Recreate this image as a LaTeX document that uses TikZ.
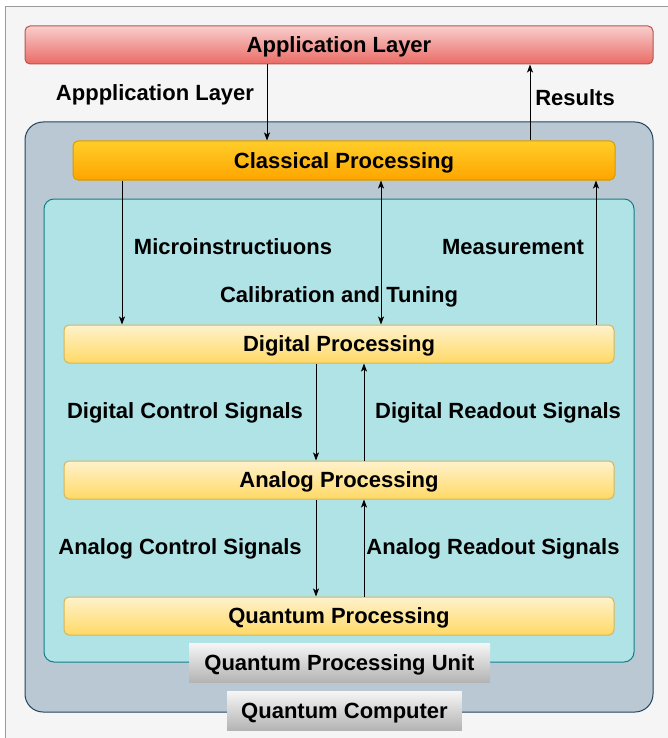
\documentclass[tikz,border=0pt]{standalone}
\usepackage{fontspec}
\setmainfont{Liberation Sans}
\usetikzlibrary{arrows.meta, positioning}
\definecolor{pagebg}{HTML}{F5F5F5}
\definecolor{pageline}{HTML}{9A9A9A}
\definecolor{apptop}{HTML}{F8CECC}
\definecolor{appbot}{HTML}{EA6B66}
\definecolor{appline}{HTML}{B85450}
\definecolor{cltop}{HTML}{FFCD28}
\definecolor{clbot}{HTML}{FFA500}
\definecolor{clline}{HTML}{D79B00}
\definecolor{qcfill}{HTML}{BAC8D3}
\definecolor{qcline}{HTML}{23445D}
\definecolor{qpufill}{HTML}{B0E3E6}
\definecolor{qpuline}{HTML}{0E8088}
\definecolor{proctop}{HTML}{FFF2CC}
\definecolor{procbot}{HTML}{FFD966}
\definecolor{procline}{HTML}{D6B656}
\definecolor{tagtop}{HTML}{F5F5F5}
\definecolor{tagbot}{HTML}{B3B3B3}
\newcommand{\labelfont}{\fontsize{22}{26}\selectfont\bfseries}

\begin{document}
\begin{tikzpicture}[
    x=1pt, y=-1pt,
    node distance=97pt,
    % 层样式
    layer/.style={
        rectangle, rounded corners=5pt, line width=1pt,
        minimum width=550pt, minimum height=38pt,
        text height=20pt, text depth=4.6pt,
        align=center, font=\labelfont
    },
    % 容器样式
    container/.style={
        rectangle, line width=1pt, inner sep=0pt
    },
    % 标签样式
    tag/.style={
        rectangle, top color=tagtop, bottom color=tagbot,
        minimum height=39pt, inner xsep=14pt,
        text height=20pt, text depth=4.6pt, font=\labelfont
    },
    % 箭头样式
    arrow/.style={-{Stealth[length=8pt, width=6pt, inset=2pt]}, line width=1pt, black},
    duoarrow/.style={{Stealth[length=8pt, width=6pt, inset=2pt]}-{Stealth[length=8pt, width=6pt, inset=2pt]}, line width=1pt, black},
    flowlabel/.style={font=\labelfont, text height=20pt, text depth=4.6pt}
]

\useasboundingbox (0,0) rectangle (668,738);
\clip (0,0) rectangle (668,738);
\draw[pageline, fill=pagebg, line width=1pt] (5.5,6.5) rectangle (700,770);

% ==================== 容器 ====================
\node[container, fill=qcfill, draw=qcline, rounded corners=18pt,
      minimum width=628pt, minimum height=590pt] (qc) at (339,417) {};
\node[container, fill=qpufill, draw=qpuline, rounded corners=10pt,
      minimum width=590pt, minimum height=463pt] (qpu) at (339,430.5) {};

% ==================== 主要模块 ====================
\node[layer, draw=appline, top color=apptop, bottom color=appbot,
      minimum width=628pt] (app) at (339,45) {Application Layer};
\node[layer, draw=clline, top color=cltop, bottom color=clbot,
      minimum width=542pt, minimum height=39pt] (classical) at (344,160.5) {Classical Processing};

\node[layer, draw=procline, top color=proctop, bottom color=procbot] (digital) at (339,344) {Digital Processing};
\node[layer, draw=procline, top color=proctop, bottom color=procbot, below=of digital] (analog) {Analog Processing};
\node[layer, draw=procline, top color=proctop, bottom color=procbot, below=of analog] (quantum) {Quantum Processing};

% ==================== 标签 ====================
\node[tag, minimum width=301pt] (qpulabel) at (339.5,663) {Quantum Processing Unit};
\node[tag, minimum width=233pt] (qclabel) at (344.5,711) {Quantum Computer};

% ==================== 数据流箭头 ====================
\coordinate (xin) at (267,0);
\coordinate (xres) at (530,0);
\coordinate (xmic) at (122,0);
\coordinate (xcal) at (381,0);
\coordinate (xmeas) at (596,0);
\coordinate (xctl) at (316,0);
\coordinate (xrd) at (364,0);

\draw[arrow] (app.south -| xin) -- (classical.north -| xin);
\draw[arrow] (classical.north -| xres) -- (app.south -| xres);

\draw[arrow] (classical.south -| xmic) -- (digital.north -| xmic);
\draw[duoarrow] (classical.south -| xcal) -- (digital.north -| xcal);
\draw[arrow] (digital.north -| xmeas) -- (classical.south -| xmeas);

\draw[arrow] (digital.south -| xctl) -- (analog.north -| xctl);
\draw[arrow] (analog.north -| xrd) -- (digital.south -| xrd);

\draw[arrow] (analog.south -| xctl) -- (quantum.north -| xctl);
\draw[arrow] (quantum.north -| xrd) -- (analog.south -| xrd);

% 箭头标签
\node[flowlabel] (lblin) at (155,93) {Appplication Layer};
\node[flowlabel] (lblres) at (575,98) {Results};
\node[flowlabel] (lblmic) at (233,247) {Microinstructiuons};
\node[flowlabel] (lblmeas) at (513,247) {Measurement};
\node[flowlabel] (lblcal) at (339,295) {Calibration and Tuning};
\node[flowlabel] (lbldctl) at (185,411) {Digital Control Signals};
\node[flowlabel] (lbldrd) at (498,411) {Digital Readout Signals};
\node[flowlabel] (lblactl) at (180,547) {Analog Control Signals};
\node[flowlabel] (lblard) at (493,547) {Analog Readout Signals};

\end{tikzpicture}
\end{document}
